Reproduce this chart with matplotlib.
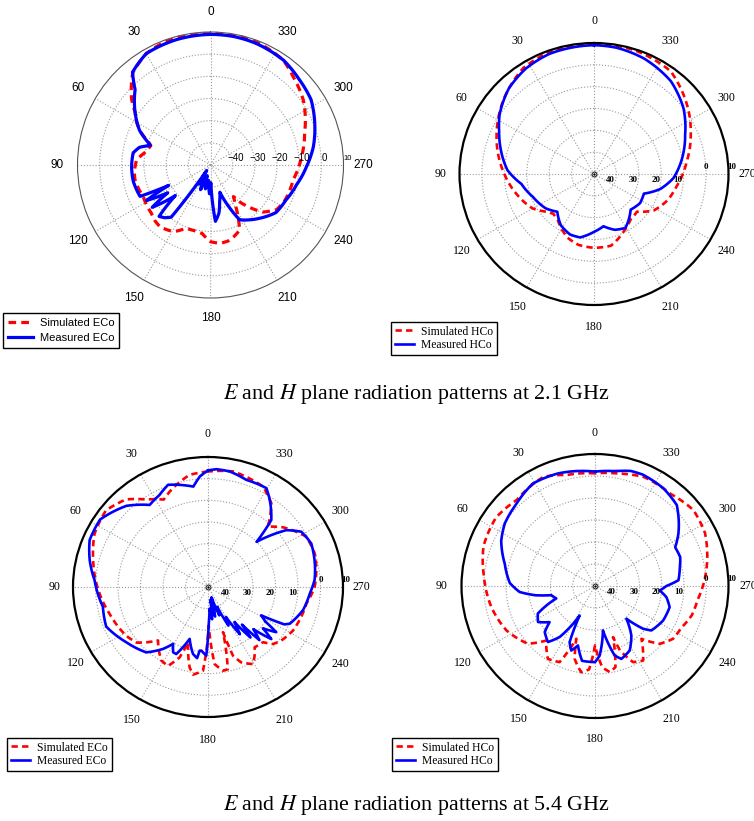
import numpy as np
import matplotlib
matplotlib.use('Agg')
import matplotlib.pyplot as plt

plt.rcParams['mathtext.fontset'] = 'stix'

W, H = 754, 821

# ---- 2.1 GHz, E plane (top left) ----
a_sim_ang = [0, 10, 20, 30, 40, 50, 55, 60, 65, 70, 72, 78, 86, 95, 101, 108, 115, 122, 129, 135,
             141, 151, 159, 166, 173, 180, 187, 193, 198, 204, 208, 212, 216, 219, 222, 228, 236, 245,
             260, 275, 289, 305, 317, 325, 340, 350, 360]
a_sim_db = [9.8, 9.7, 9.3, 8.0, 4.5, -3.5, -8.5, -11.5, -15.5, -20.5, -21.7, -20.5, -16.6, -15.5, -15.3, -15.8, -16.5, -16.0, -15.6, -14.5,
            -14.0, -15.6, -19.5, -19.5, -18.9, -15.4, -14.4, -14.8, -16.0, -17.8, -23.5, -29.0, -32.4, -28.0, -24.7, -18.3, -14.0, -12.8,
            -12.1, -8.8, -5.1, 1.1, 4.6, 7.5, 9.3, 9.7, 9.8]
a_mea_ang = [0, 15, 30, 40, 45, 54, 64, 70, 72, 76, 81, 91, 102, 114, 116, 119, 123, 126, 131, 135,
             139, 143, 145.5, 149, 153, 158, 163, 168, 173, 178, 181, 185, 190, 194, 199, 204, 208, 214,
             223, 234, 245, 257, 269, 280, 290, 303, 314, 325, 340, 350, 360]
a_mea_db = [8.9, 8.6, 8.0, 4.7, -1.9, -7.8, -14.4, -20.0, -21.5, -17.0, -14.7, -14.4, -14.4, -15.2, -29.0, -17.0, -27.0, -17.5, -29.0, -17.2,
            -18.5, -20.5, -47.0, -40.0, -44.0, -38.0, -45.0, -39.0, -43.0, -37.0, -42.0, -24.5, -28.0, -33.0, -37.0, -29.0, -22.0, -20.1,
            -17.2, -13.5, -12.5, -10.2, -6.7, -2.9, 0.1, 4.1, 5.6, 7.6, 8.6, 8.9, 8.9]

# ---- 2.1 GHz, H plane (top right) ----
b_sim_ang = [0, 18, 33, 49, 67, 80, 90, 104, 120, 129, 135, 142, 158, 168, 180, 193, 207, 218, 228,
             238, 250, 261, 278, 293, 304, 324, 342, 360]
b_sim_db = [9.7, 9.5, 7.9, 3.1, -2.8, -6.9, -10.0, -14.0, -18.4, -22.6, -24.3, -23.6, -18.5, -16.8, -16.2, -16.3, -20.6, -23.5, -24.2,
            -18.5, -15.0, -12.8, -8.2, -3.1, 1.0, 8.2, 9.5, 9.7]
b_mea_ang = [0, 20, 32, 44, 57, 65, 74, 87.5, 98, 111, 126, 136.5, 148, 159, 168, 180, 190, 200, 209.6,
             225, 237, 248, 257, 267, 279, 294, 307, 321, 337, 350, 360]
b_mea_db = [9.0, 8.5, 7.1, 4.6, 0.2, -3.3, -6.6, -11.4, -17.3, -20.8, -23.3, -26.2, -22.2, -20.3, -20.3, -23.5, -25.7, -22.8, -21.6,
            -26.9, -25.5, -26.0, -19.6, -14.5, -10.5, -5.5, 0.0, 4.6, 7.4, 8.7, 9.0]

# ---- 5.4 GHz, E plane (bottom left) ----
c_sim_ang = [0, 9, 19, 26, 34, 42, 52, 64, 76, 94, 106, 122, 129, 138, 148.6, 154, 158.8, 161, 167.6, 170.7,
             176.7, 181, 184.7, 189.8, 193, 197.7, 199.3, 203, 209.3, 213, 216.7, 223.8, 227.7, 232.8, 242, 260,
             270, 283, 288, 298, 309.5, 316.3, 323.9, 332.2, 348.2, 360]
c_sim_db = [3.3, 2.4, -1.8, -5.1, -1.3, 4.4, 7.5, 6.1, 2.6, -1.8, -4.6, -7.3, -9.2, -16.8, -10.2, -9.5, -15.2, -23.0, -12.0, -9.0,
            -11.3, -32.2, -14.3, -10.8, -11.0, -28.1, -16.4, -12.2, -9.2, -12.0, -15.3, -14.7, -10.9, -9.1, -7.2, -5.6,
            -2.6, -0.7, -0.1, -0.5, -6.7, -11.5, -2.2, 2.4, 4.5, 3.3]
c_mea_ang = [0, 4, 8, 15, 20.6, 27, 34.4, 44, 57, 67.6, 76.8, 86.5, 101, 112, 125, 137.7, 145, 149.4, 152.8, 155.5,
             161.2, 167.8, 171.6, 172.8, 174.3, 178.6, 181, 184, 187, 190, 193, 196, 198, 201, 204, 207, 210,
             213, 216, 219, 221, 223, 226, 229.5, 232, 235.5, 238, 241, 243, 245, 256, 266, 274, 285, 293.6,
             301.6, 307, 314, 317.7, 325.7, 330.4, 341, 349.8, 356, 360]
c_mea_db = [3.8, 1.2, -3.2, -1.2, 0.4, -2.4, -4.1, 2.1, 7.2, 6.9, 4.0, 0.5, -2.4, -1.2, -5.6, -9.2, -15.1, -19.5, -16.1, -16.0,
            -24.7, -18.4, -16.8, -20.4, -20.5, -18.3, -33.0, -40.0, -35.0, -44.0, -36.0, -42.0, -45.0, -36.0, -40.0, -30.0, -34.0,
            -24.0, -30.0, -20.0, -27.0, -16.5, -22.0, -13.0, -19.0, -13.2, -20.0, -23.0, -12.0, -9.9, -6.4, -4.7, -2.5, -1.0, 0.1,
            -1.3, -6.4, -20.0, -8.2, -1.3, 2.5, 2.3, 4.2, 4.5, 3.8]

# ---- 5.4 GHz, H plane (bottom right) ----
d_sim_ang = [0, 14, 25, 42, 55, 70, 85, 102, 117, 131, 138.5, 147.4, 155.3, 160.7, 164.6, 171, 176, 180, 185,
             189.6, 194, 199.2, 201, 206.3, 212.5, 221, 227.9, 235.6, 244, 253, 262, 280, 296, 308, 321, 336,
             349, 360]
d_sim_db = [1.2, 2.0, 4.8, 2.6, 4.3, 3.3, 0.1, -2.5, -5.4, -10.0, -16.9, -10.7, -11.9, -24.6, -15.6, -10.3, -12.0, -23.0, -13.0,
            -10.3, -12.0, -25.4, -18.6, -11.4, -9.8, -18.2, -10.8, -7.5, -6.8, -4.5, -3.5, 1.0, 5.0, 6.1, 3.9, 4.2,
            2.1, 1.2]
d_mea_ang = [0, 18, 31, 43, 55, 64, 76, 88, 94.6, 99, 102, 108, 116, 122.6, 128.8, 132.8, 140.3, 145.6, 152.7,
             155.9, 160, 164.2, 170.3, 180, 183.8, 190, 195.6, 199.7, 208, 216, 223.5, 228, 231.4, 242.9, 254,
             261, 266, 270, 274, 281, 289, 296, 302.4, 315, 325.3, 337, 343, 350, 360]
d_mea_db = [2.0, 3.8, 4.3, 1.5, -0.5, -3.1, -8.2, -11.7, -16.0, -23.0, -29.9, -31.7, -21.4, -19.6, -23.8, -19.2, -16.9, -21.9, -34.9,
            -22.0, -18.8, -21.9, -15.5, -15.4, -18.3, -29.5, -17.2, -14.8, -16.8, -22.2, -29.5, -21.0, -17.6, -15.6, -15.1,
            -17.5, -20.8, -17.9, -12.4, -11.2, -9.5, -9.9, -5.6, 2.0, 4.0, 5.0, 4.7, 3.0, 2.0]

theta_labels = [str(a) for a in range(0, 360, 30)]
r_ticks = [-40, -30, -20, -10, 0]
captions = ['$E$ and $H$ plane radiation patterns at 2.1 GHz',
            '$E$ and $H$ plane radiation patterns at 5.4 GHz']

fig = plt.figure(figsize=(W / 100, H / 100), dpi=100)


def make_ax(cx, cy, rx, ry):
    ax = fig.add_axes([(cx - rx) / W, 1 - (cy + ry) / H, 2 * rx / W, 2 * ry / H], projection='polar')
    ax.set_aspect('auto')
    ax.set_theta_zero_location('N')
    ax.set_theta_direction(1)
    ax.set_ylim(-50, 10)
    ax.set_xticks(np.deg2rad(np.arange(0, 360, 30)))
    ax.set_xticklabels([])
    ax.set_yticks(r_ticks)
    ax.set_yticklabels([])
    ax.grid(True, linestyle=':', color='#9a9a9a', linewidth=0.8)
    ax.set_facecolor('none')
    return ax


def panel(cx, cy, rx, ry, sim, mea, names, leg_xy, matlab_style):
    ax = make_ax(cx, cy, rx, ry)
    if matlab_style:
        fam, lw, tfs, lfs, hl = 'Liberation Sans', 2.3, 8.5, 8, 2.25
        ax.spines['polar'].set_color('#555555')
        ax.spines['polar'].set_linewidth(0.8)
    else:
        fam, lw, tfs, lfs, hl = 'Liberation Serif', 1.9, 8.5, 8.4, 1.7
        ax.spines['polar'].set_color('black')
        ax.spines['polar'].set_linewidth(1.6)
        ax.plot([0], [-50], 'o', ms=3.5, mfc='white', mec='black', mew=0.6, zorder=5)
        ax.plot([0], [-50], '.', ms=1.5, color='black', zorder=6)

    l1, = ax.plot(np.deg2rad(sim[0]), sim[1], color='#ff0000', lw=lw, ls=(0, (2.4, 1.6)))
    l2, = ax.plot(np.deg2rad(mea[0]), mea[1], color='#0000ff', lw=lw)
    # draw segments as polar arcs rather than straight chords
    for ln in (l1, l2):
        ln.get_path()._interpolation_steps = 12

    # angle labels around the circle
    for a, t in zip(range(0, 360, 30), theta_labels):
        d = 153 * 0.72
        ax.annotate(t, xy=(0.5, 0.5), xycoords='axes fraction',
                    xytext=(-d * np.sin(np.deg2rad(a)), d * np.cos(np.deg2rad(a))),
                    textcoords='offset points', ha='center', va='center',
                    family=fam, fontsize=tfs, annotation_clip=False)

    # radial labels along 270
    for r in r_ticks + [10]:
        if matlab_style:
            txt = str(r).replace('-', '\u2212')
            off = (2, 5) if r != 10 else (0, 5)
            ax.annotate(txt, xy=(np.deg2rad(270), r), xytext=off, textcoords='offset points',
                        ha='center' if r != 10 else 'left', va='center', family=fam,
                        fontsize=7 if r != 10 else 5.5, annotation_clip=False)
        else:
            txt = str(abs(r))
            if r < 0:
                off, ha = (-4, -4.5), 'center'
            elif r == 0:
                off, ha = (0, 5), 'center'
            else:
                off, ha = (-1, 5), 'left'
            ax.annotate(txt, xy=(np.deg2rad(270), r), xytext=off, textcoords='offset points',
                        ha=ha, va='center', family=fam, fontsize=6.5, fontweight='bold',
                        annotation_clip=False)

    fig.legend([l1, l2], names, loc='upper left',
               bbox_to_anchor=(leg_xy[0] / W, 1 - leg_xy[1] / H), borderaxespad=0,
               fancybox=False, framealpha=1, edgecolor='black',
               prop={'family': fam, 'size': lfs},
               handlelength=hl, handletextpad=0.6,
               borderpad=0.45 if matlab_style else 0.3,
               labelspacing=0.45 if matlab_style else 0.15)
    return ax


panel(210.5, 165, 133, 133, (a_sim_ang, a_sim_db), (a_mea_ang, a_mea_db),
      ['Simulated ECo', 'Measured ECo'], (3, 313), True)
panel(594, 174, 134.5, 131, (b_sim_ang, b_sim_db), (b_mea_ang, b_mea_db),
      ['Simulated HCo', 'Measured HCo'], (391, 322), False)
panel(208, 587, 135, 130, (c_sim_ang, c_sim_db), (c_mea_ang, c_mea_db),
      ['Simulated ECo', 'Measured ECo'], (7, 738), False)
panel(595, 586, 133.5, 132, (d_sim_ang, d_sim_db), (d_mea_ang, d_mea_db),
      ['Simulated HCo', 'Measured HCo'], (392, 738), False)

fig.text(416 / W, 1 - 394 / H, captions[0], ha='center', va='center',
         family='Liberation Serif', fontsize=15.8)
fig.text(416 / W, 1 - 805 / H, captions[1], ha='center', va='center',
         family='Liberation Serif', fontsize=15.8)

fig.savefig('out.png', dpi=100)
